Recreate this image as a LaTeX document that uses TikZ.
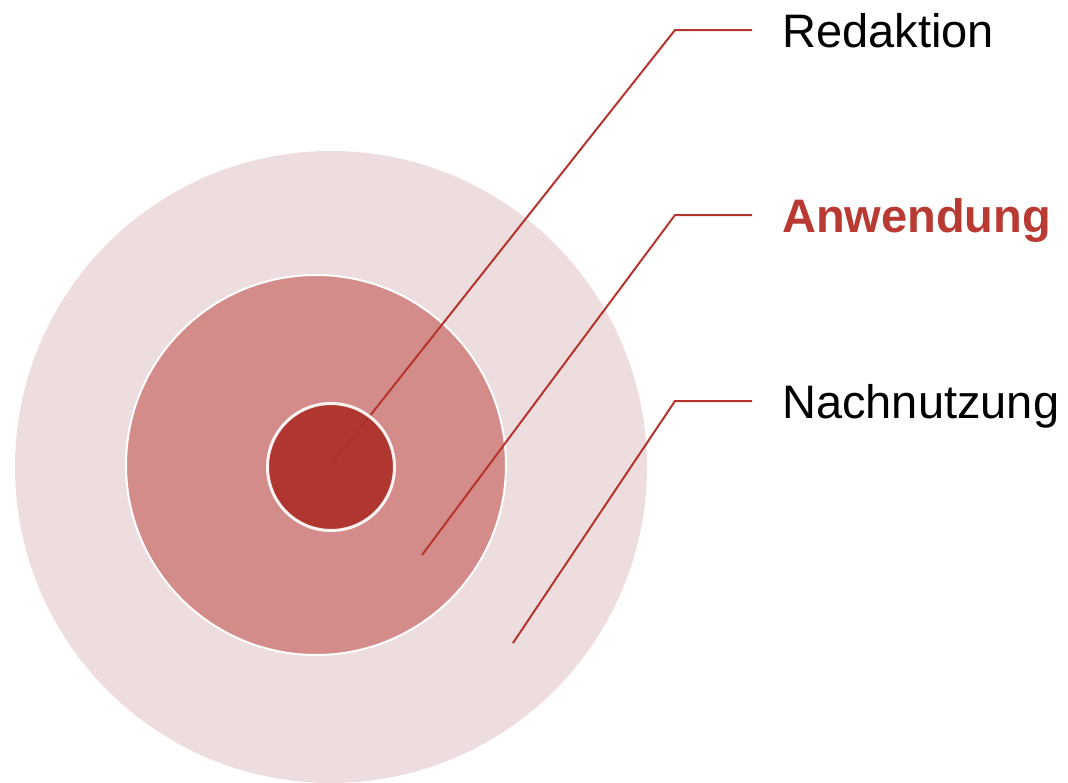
\documentclass[tikz,border=0pt]{standalone}
\usepackage{fontspec}
\setmainfont{Liberation Sans}
\usepackage{tikz}
\definecolor{ringlight}{HTML}{EEDDDE}
\definecolor{ringmid}{HTML}{D48C8A}
\definecolor{ringcore}{HTML}{AD312A}
\definecolor{linered}{HTML}{B5352E}
\definecolor{textred}{HTML}{B83A33}
\tikzstyle{leader} = [line width=2pt, draw=linered]
\tikzstyle{ringnode} = [circle, inner sep=0pt, anchor=center]
\tikzstyle{labelnode} = [anchor=west, inner xsep=30pt, inner ysep=0pt, text height=34pt,
text depth=0pt, font=\fontsize{47}{56}\selectfont]

\begin{document}
\begin{tikzpicture}[x=1pt, y=-1pt]
      \useasboundingbox (0,0) rectangle (1068,782);
      \node (outer) [ringnode, minimum size=632pt, fill=ringlight] at (331,467) {};
      \node (middle) [ringnode, minimum size=380pt, fill=ringmid, draw=white, line width=2pt] at (316,465) {};

      \node (redaktion) [labelnode] at (752,30) {Redaktion};
      \node (anwendung) [labelnode, text=textred, font=\fontsize{47}{56}\selectfont\bfseries] at (752,215) {Anwendung};
      \node (nachnutzung) [labelnode] at (752,401) {Nachnutzung};

      \coordinate (p0) at (331,465);
      \coordinate (p1) at (422,555);
      \coordinate (p2) at (513,643);
      \coordinate (k0) at (675,30);
      \coordinate (k1) at (675,215);
      \coordinate (k2) at (675,401);

      \draw [leader] (p0) -- (k0) -- (redaktion.west);
      \draw [leader] (p1) -- (k1) -- (anwendung.west);
      \draw [leader] (p2) -- (k2) -- (nachnutzung.west);

      \node (inner) [ringnode, minimum size=127pt, fill=ringcore, draw=white, line width=3pt, opacity=0.93] at (331,467) {};
    \end{tikzpicture}
\end{document}
